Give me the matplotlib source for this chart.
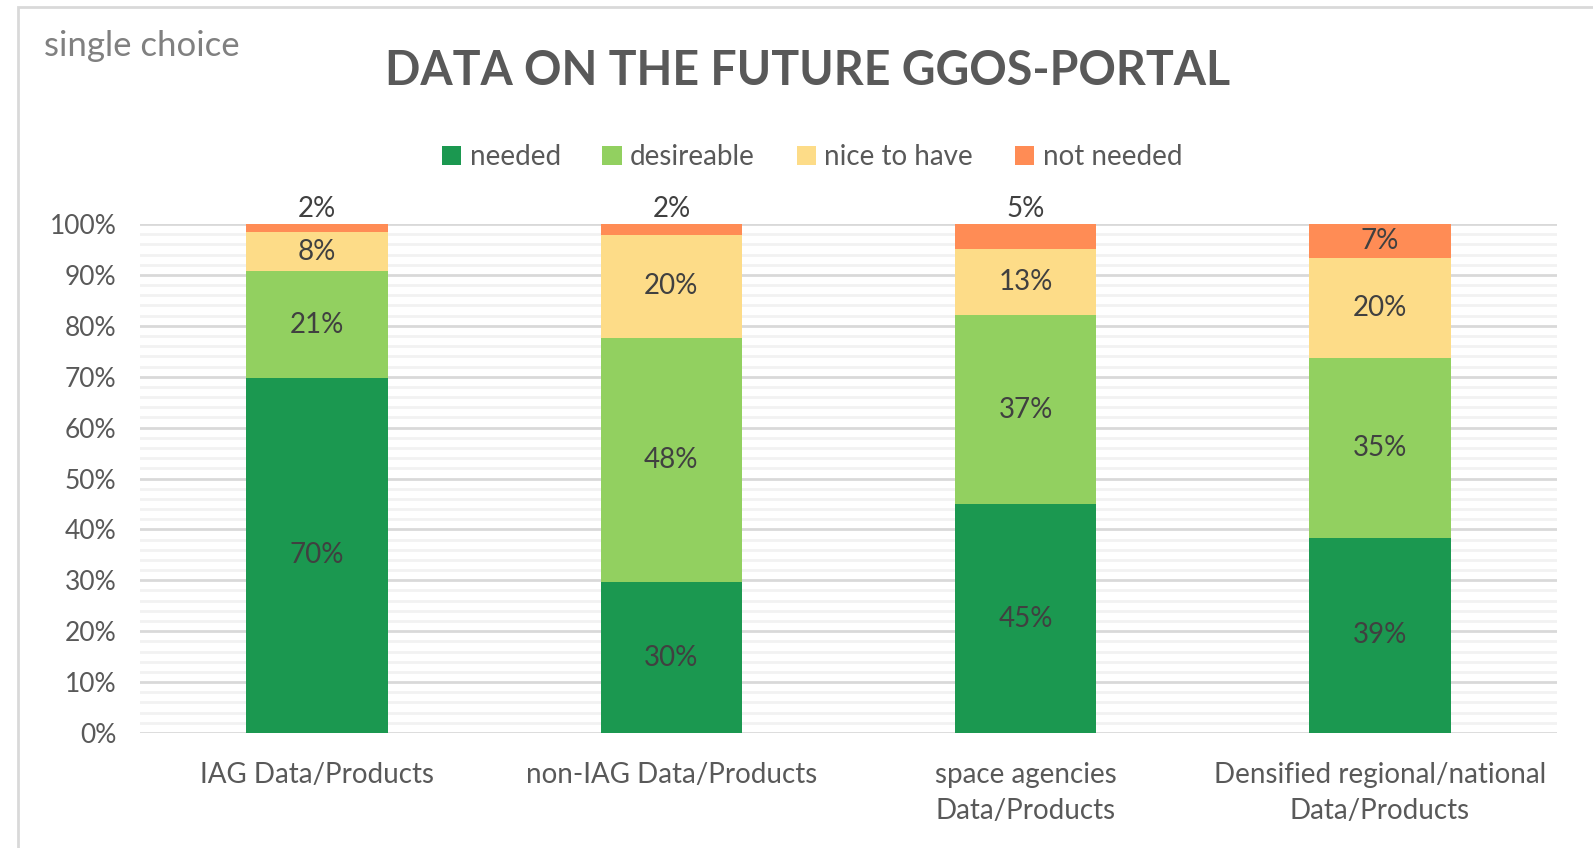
import matplotlib.pyplot as plt
from matplotlib.patches import Rectangle

plt.rcParams['font.family'] = ['Lato', 'DejaVu Sans']

categories = ["IAG Data/Products", "non-IAG Data/Products",
              "space agencies\nData/Products", "Densified regional/national\nData/Products"]
series = ["needed", "desireable", "nice to have", "not needed"]
needed = [69.8, 29.6, 44.9, 38.4]
desireable = [20.9, 48.1, 37.3, 35.2]
nice = [7.7, 20.1, 12.8, 19.8]
not_needed = [1.6, 2.2, 5.0, 6.6]
labels = [[70, 30, 45, 39], [21, 48, 37, 35], [8, 20, 13, 20], [2, 2, 5, 7]]
colors = ["#1B9850", "#92D060", "#FDDC88", "#FF8C55"]

fig = plt.figure(figsize=(15.93, 8.48), dpi=100)
fig.patches.append(Rectangle((18 / 1593, -0.1), 1.2, 1 - 7 / 848 + 0.1, transform=fig.transFigure,
                             fill=False, edgecolor="#D9D9D9", linewidth=2))
ax = fig.add_axes([0.0879, 0.1356, 0.8895, 0.6002])

x = range(len(categories))
bottom = [0, 0, 0, 0]
for i, vals in enumerate([needed, desireable, nice, not_needed]):
    ax.bar(x, vals, width=0.4, bottom=bottom, color=colors[i], label=series[i], zorder=3)
    for j, v in enumerate(vals):
        if i == 3 and v < 6:
            y = 100 + 3.0
        else:
            y = bottom[j] + v / 2
        ax.text(j, y, f"{labels[i][j]}%", ha="center", va="center", fontsize=20, color="#404040", zorder=4)
    bottom = [b + v for b, v in zip(bottom, vals)]

ax.set_xlim(-0.5, 3.5)
ax.set_ylim(0, 100)
ax.set_yticks(range(0, 101, 10))
ax.set_yticklabels([f"{t}%" for t in range(0, 101, 10)])
ax.set_yticks(range(0, 101, 2), minor=True)
ax.set_xticks(list(x))
ax.set_xticklabels(categories, linespacing=1.45)
ax.tick_params(axis="both", which="both", length=0, labelsize=20, colors="#595959")
ax.tick_params(axis="x", pad=21)
ax.tick_params(axis="y", labelsize=19, pad=17)
ax.grid(axis="y", which="major", color="#D9D9D9", linewidth=2, zorder=1)
ax.grid(axis="y", which="minor", color="#F2F2F2", linewidth=2, zorder=0)
for s in ax.spines.values():
    s.set_visible(False)

fig.text(44 / 1593, 1 - 46 / 848, "single choice", fontsize=25, color="#808080", va="center", ha="left")
fig.text(808 / 1593, 1 - 71 / 848, "DATA ON THE FUTURE GGOS-PORTAL", fontsize=33.5, fontweight="bold",
         color="#595959", ha="center", va="center")
fig.legend(loc="center", bbox_to_anchor=(812 / 1593, 1 - 157 / 848), ncol=4, frameon=False,
           fontsize=20, labelcolor="#595959", handlelength=0.7, handleheight=0.7,
           handletextpad=0.3, columnspacing=1.5)

plt.savefig("out.png")
